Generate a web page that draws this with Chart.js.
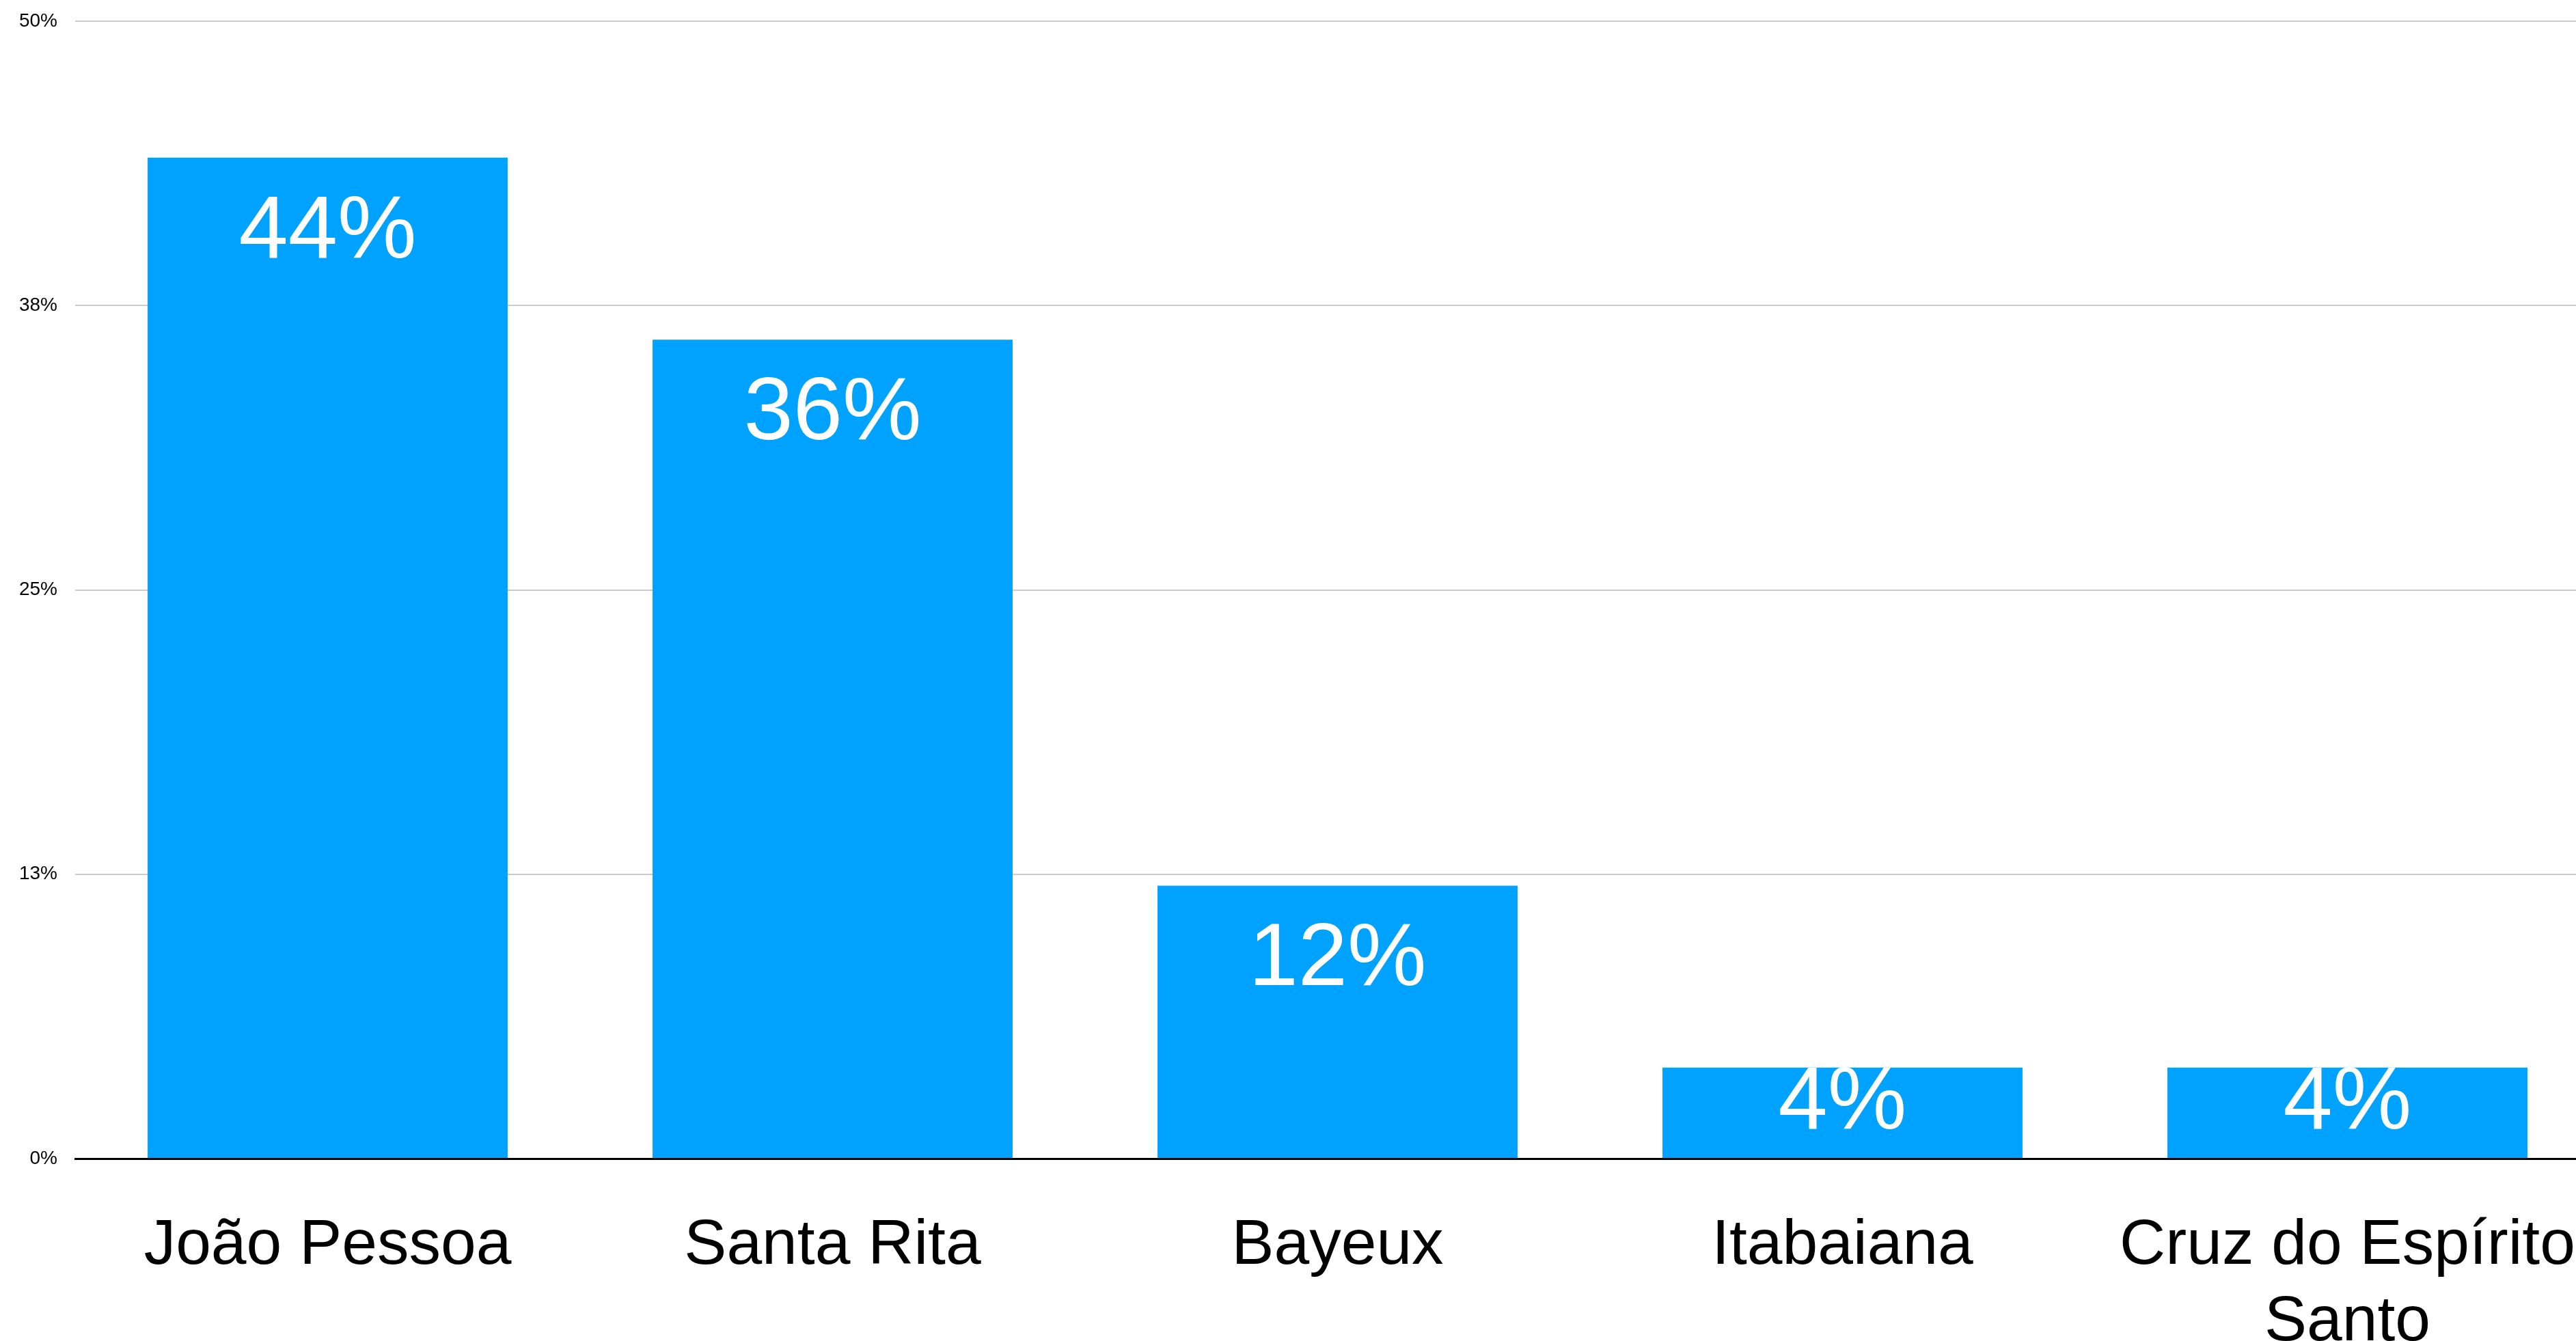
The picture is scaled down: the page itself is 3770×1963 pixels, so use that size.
<!DOCTYPE html>
<html lang="pt">

<head>
    <meta charset="UTF-8">
    <title>Municípios</title>
    <style>
        html, body { margin: 0; padding: 0; background: #fff; overflow: hidden; }
        #wrap { width: 3770px; height: 1963px; overflow: hidden; }
        #chart { width: 3805px; height: 1963px; }
    </style>
</head>

<body>
    <div id="wrap">
        <canvas id="chart" width="3805" height="1963"></canvas>
    </div>

    <script src="https://cdn.jsdelivr.net/npm/chart.js@4/dist/chart.umd.min.js"></script>
    <script>
        const cities = ['João Pessoa', 'Santa Rita', 'Bayeux', 'Itabaiana', ['Cruz do Espírito', 'Santo']];
        const shares = [44, 36, 12, 4, 4];
        const shareLabels = ['44%', '36%', '12%', '4%', '4%'];
        const yTicks = [0, 12.5, 25, 37.5, 50];
        const yTickLabels = ['0%', '13%', '25%', '38%', '50%'];

        const FONT = "'Liberation Sans', Arial, sans-serif";

        // white value labels sitting inside the top of each bar
        const barLabels = {
            id: 'barLabels',
            afterDatasetsDraw(chart) {
                const c = chart.ctx;
                const meta = chart.getDatasetMeta(0);
                c.save();
                c.fillStyle = '#ffffff';
                c.font = '130px ' + FONT;
                c.textAlign = 'center';
                c.textBaseline = 'alphabetic';
                meta.data.forEach((bar, i) => {
                    const y = Math.min(bar.y + 146, bar.base - 43);
                    c.fillText(shareLabels[i], bar.x, y);
                });
                c.restore();
            }
        };

        const ctx = document.getElementById('chart').getContext('2d');
        new Chart(ctx, {
            type: 'bar',
            data: {
                labels: cities,
                datasets: [{
                    data: shares,
                    backgroundColor: '#00a2ff',
                    categoryPercentage: 0.713,
                    barPercentage: 1
                }]
            },
            options: {
                responsive: false,
                devicePixelRatio: 1,
                animation: false,
                layout: { padding: { top: 31, left: 0, right: 0, bottom: 0 } },
                plugins: {
                    legend: { display: false },
                    tooltip: { enabled: false }
                },
                scales: {
                    x: {
                        afterFit: s => { s.height = 267; s.paddingLeft = 0; s.paddingRight = 0; },
                        grid: { display: false },
                        border: { display: true, color: '#000000', width: 3 },
                        ticks: {
                            color: '#000000',
                            padding: 65,
                            maxRotation: 0,
                            autoSkip: false,
                            font: { family: FONT, size: 93, lineHeight: 1.2 }
                        }
                    },
                    y: {
                        min: 0,
                        max: 50,
                        afterFit: s => { s.width = 110; s.paddingTop = 0; s.paddingBottom = 0; },
                        afterBuildTicks: s => { s.ticks = yTicks.map(v => ({ value: v })); },
                        border: { display: false },
                        grid: {
                            drawTicks: false,
                            lineWidth: 2,
                            color: c => c.tick && c.tick.value === 0 ? 'rgba(0,0,0,0)' : '#cbcbcb'
                        },
                        ticks: {
                            color: '#000000',
                            padding: 26,
                            font: { family: FONT, size: 28 },
                            callback: (v, i) => yTickLabels[i]
                        }
                    }
                }
            },
            plugins: [barLabels]
        });
    </script>
</body>

</html>
